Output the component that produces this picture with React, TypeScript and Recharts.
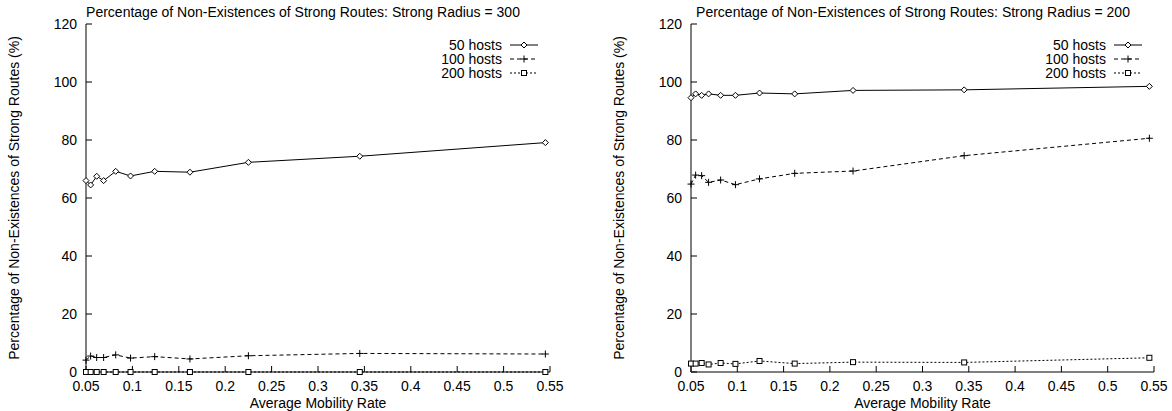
import { LineChart, Line, XAxis, YAxis, Legend } from "recharts";

// average mobility rate (x positions shared by all series)
const mobility = [0.05, 0.055, 0.0615, 0.069, 0.082, 0.098, 0.124, 0.162, 0.225, 0.345, 0.545];

// strong radius = 300
const r300Hosts50 = [66.0, 64.5, 67.5, 66.0, 69.2, 67.6, 69.2, 68.9, 72.3, 74.4, 79.1];
const r300Hosts100 = [4.1, 5.5, 5.0, 5.0, 5.9, 4.8, 5.3, 4.5, 5.6, 6.4, 6.2];
const r300Hosts200 = [0, 0, 0, 0, 0, 0, 0, 0, 0, 0, 0];

// strong radius = 200
const r200Hosts50 = [94.6, 95.9, 95.4, 95.9, 95.4, 95.4, 96.2, 95.9, 97.1, 97.3, 98.5];
const r200Hosts100 = [64.8, 67.9, 67.7, 65.4, 66.2, 64.6, 66.6, 68.5, 69.3, 74.6, 80.6];
const r200Hosts200 = [2.9, 2.9, 3.1, 2.6, 3.1, 2.8, 3.8, 2.9, 3.4, 3.3, 4.9];

const xTicks = [0.05, 0.1, 0.15, 0.2, 0.25, 0.3, 0.35, 0.4, 0.45, 0.5, 0.55];
const yTicks = [0, 20, 40, 60, 80, 100, 120];

const font = "'Liberation Sans', Arial, Helvetica, sans-serif";

const W = 586;
const H = 411;

function Diamond(props: any) {
  const { cx, cy, index } = props;
  if (cx == null || cy == null) return null;
  const r = 3;
  return (
    <path
      key={index}
      d={`M${cx},${cy - r}L${cx + r},${cy}L${cx},${cy + r}L${cx - r},${cy}Z`}
      fill="#fff"
      stroke="#000"
      strokeWidth={1}
    />
  );
}

function Plus(props: any) {
  const { cx, cy, index } = props;
  if (cx == null || cy == null) return null;
  const r = 3.5;
  return (
    <path
      key={index}
      d={`M${cx - r},${cy}H${cx + r}M${cx},${cy - r}V${cy + r}`}
      stroke="#000"
      strokeWidth={1}
      fill="none"
    />
  );
}

function Square(props: any) {
  const { cx, cy, index } = props;
  if (cx == null || cy == null) return null;
  const r = 2.5;
  return (
    <rect
      key={index}
      x={cx - r}
      y={cy - r}
      width={r * 2}
      height={r * 2}
      fill="#fff"
      stroke="#000"
      strokeWidth={1}
    />
  );
}

const legendRows = [
  { name: "50 hosts", dash: undefined, Marker: Diamond },
  { name: "100 hosts", dash: "4 3", Marker: Plus },
  { name: "200 hosts", dash: "2 2", Marker: Square },
];

function HostLegend() {
  return (
    <div style={{ fontFamily: font, fontSize: 14, color: "#000" }}>
      {legendRows.map((row) => (
        <div key={row.name} style={{ display: "flex", alignItems: "center", height: 14 }}>
          <span style={{ width: 102, textAlign: "right", lineHeight: "14px" }}>{row.name}</span>
          <svg width={36} height={14} style={{ marginLeft: 8 }}>
            <line x1={0} y1={7} x2={28} y2={7} stroke="#000" strokeDasharray={row.dash} />
            <row.Marker cx={14} cy={7} index={0} />
          </svg>
        </div>
      ))}
    </div>
  );
}

function Panel(props: {
  left: number;
  marginLeft: number;
  marginRight: number;
  legendLeft: number;
  title: string;
  titleCenter: number;
  h50: number[];
  h100: number[];
  h200: number[];
}) {
  const data = mobility.map((m, i) => ({
    m,
    h50: props.h50[i],
    h100: props.h100[i],
    h200: props.h200[i],
  }));
  const plotLeft = props.marginLeft + 50;
  const plotRight = W - props.marginRight;
  const tickStyle = { fontFamily: font, fontSize: 14, fill: "#000" };
  return (
    <div style={{ position: "absolute", left: props.left, top: 0, width: W, height: H }}>
      <LineChart
        width={W}
        height={H}
        data={data}
        margin={{ top: 24, right: props.marginRight, bottom: 9, left: props.marginLeft }}
      >
        <XAxis
          dataKey="m"
          type="number"
          domain={[0.05, 0.55]}
          ticks={xTicks}
          tickFormatter={(v: number) => String(Number(v.toFixed(2)))}
          tick={tickStyle}
          tickSize={-6}
          tickMargin={15}
          axisLine={{ stroke: "#000" }}
          tickLine={{ stroke: "#000" }}
          interval={0}
          height={30}
        />
        <XAxis
          xAxisId="top"
          orientation="top"
          dataKey="m"
          type="number"
          domain={[0.05, 0.55]}
          ticks={xTicks}
          tickFormatter={() => ""}
          tickSize={-6}
          axisLine={{ stroke: "#000" }}
          tickLine={{ stroke: "#000" }}
          interval={0}
          height={0}
        />
        <YAxis
          type="number"
          domain={[0, 120]}
          ticks={yTicks}
          tick={tickStyle}
          tickSize={-6}
          tickMargin={15}
          axisLine={{ stroke: "#000" }}
          tickLine={{ stroke: "#000" }}
          interval={0}
          width={50}
        />
        <YAxis
          yAxisId="right"
          orientation="right"
          type="number"
          domain={[0, 120]}
          ticks={yTicks}
          tickFormatter={() => ""}
          tickSize={-6}
          axisLine={{ stroke: "#000" }}
          tickLine={{ stroke: "#000" }}
          interval={0}
          width={0}
        />
        <Legend
          layout="horizontal"
          verticalAlign="middle"
          align="center"
          content={() => <HostLegend />}
          wrapperStyle={{ left: props.legendLeft, top: 38, width: 150, height: 44 }}
        />
        {/* invisible series so the mirrored top/right axes get drawn */}
        <Line
          xAxisId="top"
          yAxisId="right"
          dataKey="h50"
          stroke="none"
          dot={false}
          activeDot={false}
          legendType="none"
          isAnimationActive={false}
        />
        <Line
          dataKey="h50"
          name="50 hosts"
          stroke="#000"
          strokeWidth={1}
          dot={Diamond}
          activeDot={false}
          isAnimationActive={false}
        />
        <Line
          dataKey="h100"
          name="100 hosts"
          stroke="#000"
          strokeWidth={1}
          strokeDasharray="4 3"
          dot={Plus}
          activeDot={false}
          isAnimationActive={false}
        />
        <Line
          dataKey="h200"
          name="200 hosts"
          stroke="#000"
          strokeWidth={1}
          strokeDasharray="2 2"
          dot={Square}
          activeDot={false}
          isAnimationActive={false}
        />
      </LineChart>
      <div
        style={{
          position: "absolute",
          left: props.titleCenter - 300,
          top: 4,
          width: 600,
          textAlign: "center",
          fontFamily: font,
          fontSize: 14,
          lineHeight: "16px",
        }}
      >
        {props.title}
      </div>
      <div
        style={{
          position: "absolute",
          left: (plotLeft + plotRight) / 2 - 150,
          top: 395,
          width: 300,
          textAlign: "center",
          fontFamily: font,
          fontSize: 14,
          lineHeight: "16px",
        }}
      >
        Average Mobility Rate
      </div>
      <div
        style={{
          position: "absolute",
          left: plotLeft - 72 - 200,
          top: 198 - 8,
          width: 400,
          textAlign: "center",
          fontFamily: font,
          fontSize: 14,
          lineHeight: "16px",
          transform: "rotate(-90deg)",
        }}
      >
        Percentage of Non-Existences of Strong Routes (%)
      </div>
    </div>
  );
}

export default function App() {
  return (
    <div style={{ position: "absolute", left: 0, top: 0, width: 1172, height: 411, background: "#fff" }}>
      <Panel
        left={0}
        marginLeft={36}
        marginRight={36}
        legendLeft={400}
        title="Percentage of Non-Existences of Strong Routes: Strong Radius = 300"
        titleCenter={303}
        h50={r300Hosts50}
        h100={r300Hosts100}
        h200={r300Hosts200}
      />
      <Panel
        left={586}
        marginLeft={55}
        marginRight={18}
        legendLeft={418}
        title="Percentage of Non-Existences of Strong Routes: Strong Radius = 200"
        titleCenter={913 - 586}
        h50={r200Hosts50}
        h100={r200Hosts100}
        h200={r200Hosts200}
      />
    </div>
  );
}
